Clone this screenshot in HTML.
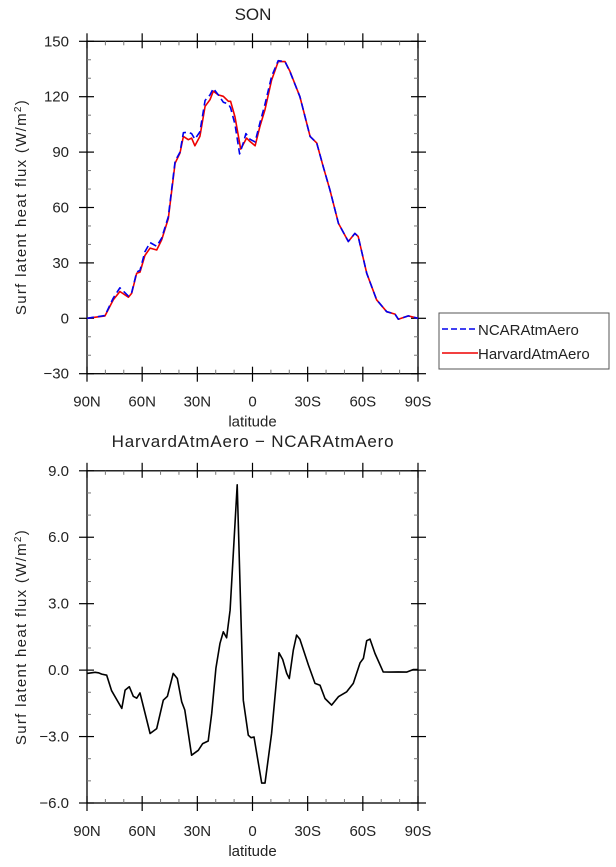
<!DOCTYPE html>
<html><head><meta charset="utf-8"><style>
html,body{margin:0;padding:0;background:#fff;}
svg text{font-family:"Liberation Sans",sans-serif;fill:#222;}
</style></head><body>
<svg id="c" width="616" height="862" viewBox="0 0 616 862" xmlns="http://www.w3.org/2000/svg"></svg>
<script>
// ---- data ----
const latH = [90,80.2,75.7,72.1,67.5,65.7,63,61.2,58.5,55.7,52.1,49.4,45.8,42.1,39.4,37.6,34.9,33.1,31.3,28.6,25.8,23.1,21.3,18.6,15.9,13.1,11.9,9.5,6.4,3.2,1.4,-1.4,-4.1,-6.8,-10.4,-14,-17.7,-20.4,-25.8,-31.3,-34.9,-38.5,-42.1,-46.7,-52.1,-55.7,-57.5,-62.1,-67.5,-73,-77.5,-79.3,-84.7,-90];
const harvard = [0,1.3,10,14.5,11.4,13.6,24.4,25,34,38,37,42.5,54,84,89.5,98.5,96.7,97.6,93.4,98.5,114.8,118.4,123,121,120.2,117.5,117.5,109,91.6,97.6,95.8,93.4,104,113,129,139,139,133.7,120,98.5,95,82,69.6,51.5,41.6,46,44.3,24.4,10,3.6,2.3,-0.5,1.3,0];
const latN = [90,80.2,75.7,72.1,67.5,65.7,63,61.2,58.5,55.7,52.1,49.4,45.8,42.1,39.4,37.6,34.9,33.1,31.3,28.6,25.8,23.1,21.3,18.6,15.9,13.1,11.9,9.5,7,5,3.6,1.4,-1.4,-4.1,-6.8,-10.4,-14,-17.7,-20.4,-25.8,-31.3,-34.9,-38.5,-42.1,-46.7,-52.1,-55.7,-57.5,-62.1,-67.5,-73,-77.5,-79.3,-84.7,-90];
const ncar = [0,1.5,11,16.5,12,14,25,26,36,41,39,43.5,55,85,90,100.5,100.8,100,97,101,118,121,124.5,121,117,116,114,105,89,95,100,97,95.5,106,116,131,139.5,139,133.5,120,98.5,95,82,69.6,51.5,41.6,46,44.3,24.4,10,3.6,2.3,-0.5,1.3,0];
const latD = [90,85.6,83.8,82,79.3,76.6,71.1,69.3,67,64.8,63,61.2,55.7,52.1,48.5,46.3,43.1,40.9,38.5,36.8,33.1,29.5,27.1,24.1,22.2,19.9,17.7,15.9,14.1,12.2,8.3,5,2.3,0.8,-0.8,-5,-6.8,-10.4,-14.4,-16.4,-18.6,-20,-22.2,-24,-25.8,-30.4,-34,-36.7,-39.4,-43,-46.7,-51.2,-54.8,-58.5,-60.3,-62.1,-63.9,-66.6,-71.1,-74.8,-79.3,-83.8,-87.5,-90];
const diff = [-0.15,-0.1,-0.12,-0.18,-0.23,-0.93,-1.73,-0.9,-0.75,-1.18,-1.27,-1.03,-2.86,-2.64,-1.36,-1.18,-0.15,-0.38,-1.43,-1.8,-3.84,-3.62,-3.32,-3.2,-1.96,0.08,1.21,1.73,1.46,2.71,8.37,-1.36,-2.94,-3.05,-3.02,-5.1,-5.1,-2.86,0.78,0.48,-0.15,-0.38,0.9,1.58,1.39,0.23,-0.6,-0.68,-1.28,-1.58,-1.2,-0.98,-0.6,0.33,0.53,1.33,1.4,0.75,-0.08,-0.09,-0.08,-0.09,0.03,0.03];
const xTickVals = [90,60,30,0,-30,-60,-90];
const xTickLabels = ["90N","60N","30N","0","30S","60S","90S"];
const yTopTicks = [-30,0,30,60,90,120,150];
const yTopLabels = ["\u221230","0","30","60","90","120","150"];
const yBotTicks = [-6,-3,0,3,6,9];
const yBotLabels = ["\u22126.0","\u22123.0","0.0","3.0","6.0","9.0"];

const NS="http://www.w3.org/2000/svg";
const svg=document.getElementById('c');
function mk(tag,attrs,parent){const e=document.createElementNS(NS,tag);for(const k in attrs)e.setAttribute(k,attrs[k]);(parent||svg).appendChild(e);return e;}
const L=87,R=418;
const xs=lat=>L+(90-lat)/180*(R-L);

function panel(top,bot,ymin,ymax,ticks,labels,minorStep,name,ytitleY){
  const g=mk('g',{});
  
  
  const ys=v=>bot-(v-ymin)/(ymax-ymin)*(bot-top);
  const fr=mk('rect',{x:L,y:top,width:R-L,height:bot-top,fill:'none',stroke:'#000','stroke-width':1.3},g);
  
  
  for(let v=ymin;v<=ymax+1e-6;v+=minorStep){
    const major=ticks.some(t=>Math.abs(t-v)<1e-6);
    if(major){
      mk('line',{x1:L-8,x2:L+7,y1:ys(v),y2:ys(v),stroke:'#000','stroke-width':1.2},g);
      mk('line',{x1:R+8,x2:R-7,y1:ys(v),y2:ys(v),stroke:'#000','stroke-width':1.2},g);
    } else {
      mk('line',{x1:L,x2:L+4,y1:ys(v),y2:ys(v),stroke:'#777','stroke-width':1},g);
      mk('line',{x1:R,x2:R-4,y1:ys(v),y2:ys(v),stroke:'#777','stroke-width':1},g);
    }
  }
  ticks.forEach((t,i)=>{
    const tx=mk('text',{x:L-18,y:ys(t)+5,'text-anchor':'end','font-size':15},g);
    tx.textContent=labels[i];
    
    
  });
  for(let lat=90;lat>=-90;lat-=10){
    const major=lat%30===0;
    if(major){
      mk('line',{x1:xs(lat),x2:xs(lat),y1:top-8,y2:top+7,stroke:'#000','stroke-width':1.2},g);
      mk('line',{x1:xs(lat),x2:xs(lat),y1:bot+8,y2:bot-7,stroke:'#000','stroke-width':1.2},g);
    } else {
      mk('line',{x1:xs(lat),x2:xs(lat),y1:top,y2:top+4,stroke:'#777','stroke-width':1},g);
      mk('line',{x1:xs(lat),x2:xs(lat),y1:bot,y2:bot-4,stroke:'#777','stroke-width':1},g);
    }
  }
  xTickVals.forEach((t,i)=>{
    const tx=mk('text',{x:xs(t),y:bot+33,'text-anchor':'middle','font-size':15},g);
    tx.textContent=xTickLabels[i];
    
    
  });
  const xt=mk('text',{x:(L+R)/2,y:bot+53,'text-anchor':'middle','font-size':15},g);
  xt.textContent='latitude';
  
  
  const yt=mk('text',{x:0,y:0,'text-anchor':'middle','font-size':15,'letter-spacing':'1.3',transform:`translate(26,${ytitleY}) rotate(-90)`},g);
  yt.innerHTML='Surf latent heat flux (W/m<tspan baseline-shift="super" font-size="10">2</tspan>)';
  
  
  return ys;
}
function line(lats,vals,ys,color,dash,name,w){
  const d=lats.map((la,i)=>(i?'L':'M')+xs(la).toFixed(1)+','+ys(vals[i]).toFixed(1)).join(' ');
  const p=mk('path',{d:d,fill:'none',stroke:color,'stroke-width':w||1.6,'stroke-linejoin':'round'});
  if(dash)p.setAttribute('stroke-dasharray',dash);
  
  
}
const t1=mk('text',{x:253,y:20,'text-anchor':'middle','font-size':17});
t1.textContent='SON';


const ysT=panel(41.3,373.7,-30,150,yTopTicks,yTopLabels,10,'top-panel',207);
line(latH,harvard,ysT,'#ee0000',null,'harvard-line');
line(latN,ncar,ysT,'#0000ee','7,4','ncar-line');
const t2=mk('text',{x:253,y:447,'text-anchor':'middle','font-size':17,'letter-spacing':'0.8'});
t2.textContent='HarvardAtmAero \u2212 NCARAtmAero';


const ysB=panel(470.8,803,-6,9,yBotTicks,yBotLabels,1,'bottom-panel',637);
line(latD,diff,ysB,'#000','', 'difference-line',1.6);
const lg=mk('g',{});


mk('rect',{x:439,y:313,width:170,height:56,fill:'#fff',stroke:'#555','stroke-width':1},lg);
const e1=mk('g',{},lg);


mk('line',{x1:442,x2:478,y1:329,y2:329,stroke:'#0000ee','stroke-width':1.6,'stroke-dasharray':'6,3'},e1);
const l1=mk('text',{x:478,y:335,'font-size':15},e1);l1.textContent='NCARAtmAero';
const e2=mk('g',{},lg);


mk('line',{x1:442,x2:478,y1:353,y2:353,stroke:'#ee0000','stroke-width':1.6},e2);
const l2=mk('text',{x:478,y:359,'font-size':15},e2);l2.textContent='HarvardAtmAero';
</script>
</body></html>
